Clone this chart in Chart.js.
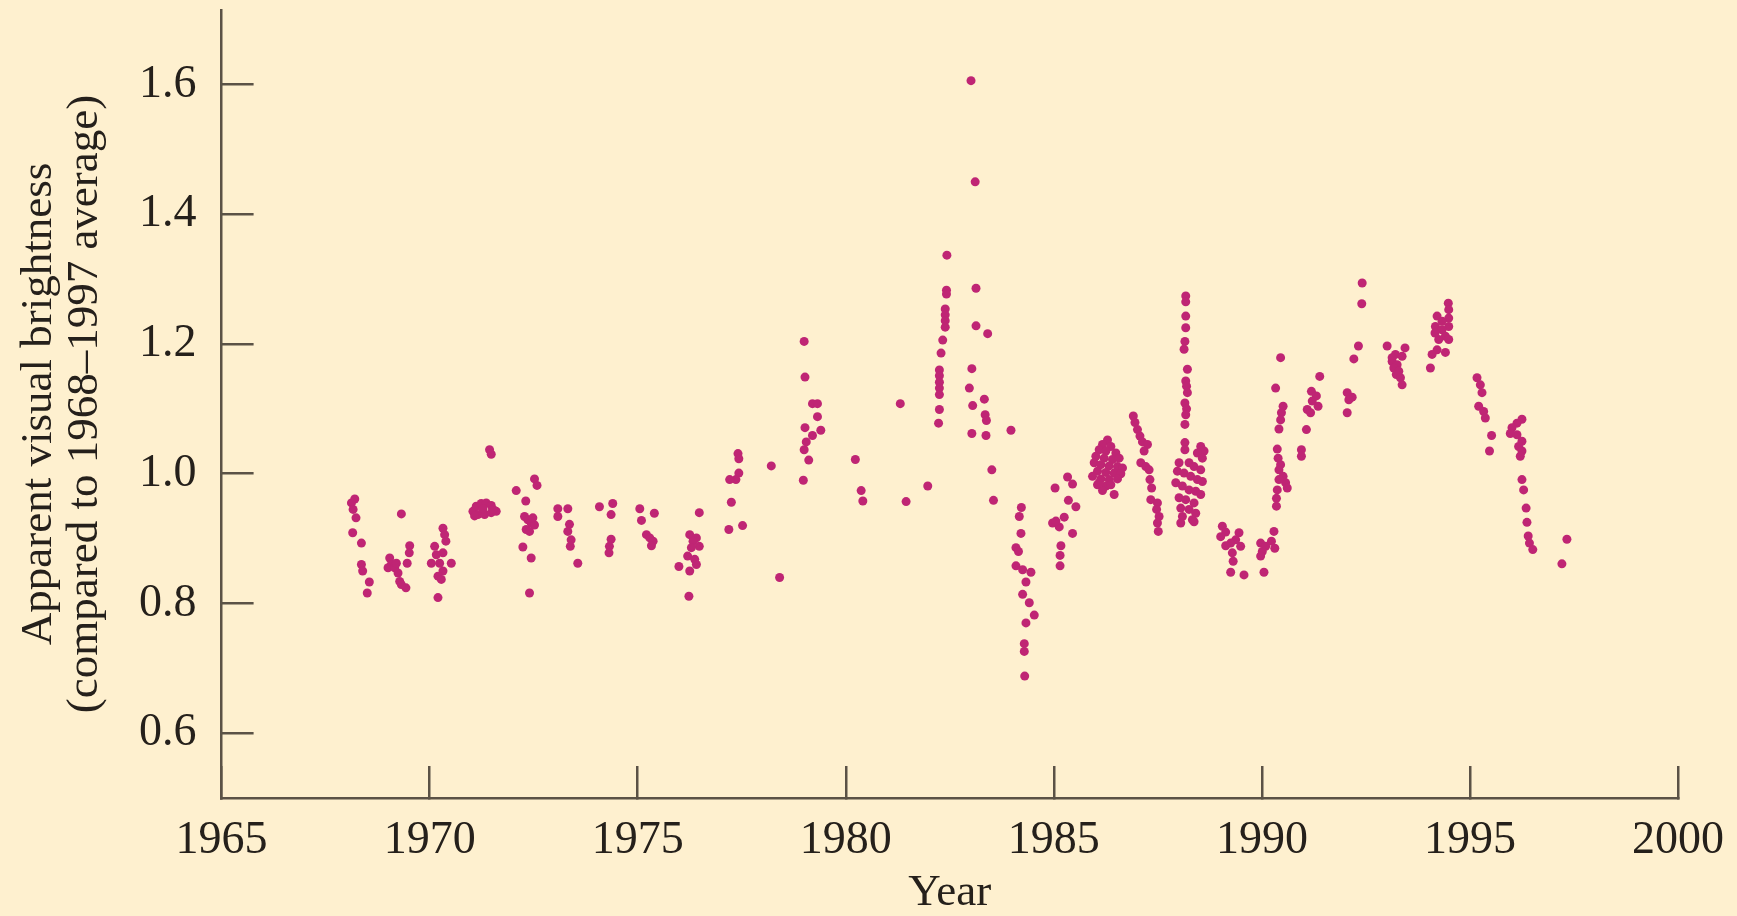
<!DOCTYPE html>
<html>
<head>
<meta charset="utf-8">
<title>Apparent visual brightness 1968–1997</title>
<script src="https://cdn.jsdelivr.net/npm/chart.js@4/dist/chart.umd.min.js"></script>
<style>
  html, body { margin: 0; padding: 0; background: #fef0cf; }
  canvas { display: block; }
</style>
</head>
<body>
<canvas id="chart" width="1737" height="916"></canvas>
<script>
const yearTicks = [1965, 1970, 1975, 1980, 1985, 1990, 1995, 2000];
const brightnessTicks = [0.6, 0.8, 1.0, 1.2, 1.4, 1.6];

// observation epochs, one line per observing season
const years = [
  1968.20,1968.12,1968.16,1968.23,1968.15,1968.36,1968.36,1968.39,1968.55,1968.50,
  1969.32,1969.52,1969.51,1969.46,1969.04,1969.08,1969.00,1969.16,1969.24,1969.28,1969.43,1969.32,1969.20,
  1970.32,1970.36,1970.39,1970.12,1970.32,1970.16,1970.04,1970.24,1970.52,1970.32,1970.20,1970.28,1970.20,
  1971.04,1971.12,1971.24,1971.36,1971.48,1971.60,1971.16,1971.32,1971.48,1971.08,1971.28,1971.52,1971.44,1971.48,
  1972.08,1972.52,1972.58,1972.31,1972.28,1972.36,1972.44,1972.52,1972.32,1972.24,1972.44,1972.40,1972.48,1972.40,
  1973.08,1973.32,1973.08,1973.36,1973.32,1973.40,1973.38,1973.56,
  1974.08,1974.40,1974.36,1974.36,1974.32,1974.31,
  1975.05,1975.40,1975.09,1975.21,1975.29,1975.37,1975.33,
  1976.48,1976.25,1976.41,1976.33,1976.48,1976.29,1976.20,1976.37,1976.41,1975.99,1976.25,1976.23,
  1977.41,1977.43,1977.43,1977.36,1977.21,1977.25,1977.19,1977.52,1978.21,1978.41,
  1979.00,1979.02,1979.20,1979.32,1979.32,1979.02,1979.40,1979.20,1979.05,1979.00,1979.11,1978.98,1980.23,1980.37,1980.41,
  1981.31,1981.97,1981.45,1982.43,1982.42,1982.42,1982.39,1982.39,1982.39,1982.39,1982.33,1982.29,1982.25,1982.25,1982.25,1982.25,1982.25,1982.25,1982.23,
  1983.01,1983.11,1983.13,1983.13,1983.41,1983.03,1982.97,1983.05,1983.33,1983.35,1983.38,1983.03,1983.37,1983.97,1983.51,1983.55,
  1984.22,1984.17,1984.21,1984.09,1984.15,1984.09,1984.25,1984.45,1984.33,1984.25,1984.41,1984.53,1984.33,1984.29,1984.29,1984.30,
  1985.33,1985.45,1985.03,1985.35,1985.53,1984.97,1985.13,1985.45,1985.17,1985.15,1985.15,1985.05,1985.25,
  1986.29,1986.17,1986.37,1986.09,1986.25,1986.49,1986.01,1986.21,1986.41,1986.57,1985.97,1986.13,1986.33,1986.53,1986.65,
  1986.05,1986.25,1986.45,1986.61,1985.93,1986.13,1986.33,1986.53,1986.05,1986.25,1986.17,1986.45,1986.09,1986.37,
  1986.91,1986.95,1987.01,1987.07,1987.13,1987.25,1987.17,1987.09,1987.21,1987.29,1987.31,1987.35,1987.33,1987.49,1987.47,1987.53,1987.49,1987.51,
  1988.17,1988.17,1988.17,1988.17,1988.15,1988.13,1988.21,1988.17,1988.19,1988.21,1988.15,1988.19,1988.17,1988.15,1988.15,1988.15,
  1988.53,1988.61,1988.45,1988.57,1988.01,1988.25,1988.37,1988.53,1987.97,1988.13,1988.29,1988.45,1988.57,1987.93,
  1988.09,1988.25,1988.41,1988.53,1988.01,1988.17,1988.37,1988.05,1988.25,1988.41,1988.09,1988.33,1988.05,1988.37,
  1989.05,1989.13,1989.01,1989.45,1989.37,1989.25,1989.13,1989.49,1989.29,1989.31,1989.25,1989.57,1990.05,1989.97,1990.09,1990.01,1989.97,1990.29,1990.31,1990.23,
  1990.45,1990.33,1990.51,1990.47,1990.45,1990.41,1990.37,1990.39,1990.45,1990.41,1990.51,1990.57,1990.61,1990.37,1990.35,1990.35,1990.41,
  1991.39,1991.19,1991.31,1991.21,1991.35,1991.09,1991.17,1991.07,1990.95,1990.95,
  1992.41,1992.40,1992.32,1992.21,1992.05,1992.17,1992.09,1992.05,
  1993.01,1993.44,1993.21,1993.37,1993.13,1993.25,1993.17,1993.29,1993.23,1993.33,1993.37,1993.13,
  1994.48,1994.49,1994.21,1994.49,1994.33,1994.17,1994.49,1994.33,1994.16,1994.41,1994.25,1994.49,1994.21,1994.41,1994.09,1994.05,
  1995.17,1995.25,1995.29,1995.21,1995.33,1995.37,1995.52,1995.47,
  1996.25,1996.13,1996.01,1995.97,1996.13,1996.25,1996.17,1996.25,1996.21,1996.25,1996.29,1996.35,1996.37,1996.40,1996.43,1996.51,
  1997.33,1997.21
];

// brightness relative to the 1968–1997 mean, same order as years
const brightness = [
  0.961,0.955,0.945,0.932,0.909,0.893,0.860,0.850,0.833,0.816,
  0.938,0.889,0.878,0.862,0.870,0.860,0.855,0.855,0.847,0.834,0.824,0.829,0.862,
  0.916,0.906,0.896,0.888,0.878,0.875,0.862,0.862,0.862,0.850,0.842,0.837,0.809,
  0.942,0.950,0.954,0.955,0.951,0.942,0.937,0.937,0.940,0.935,0.946,0.945,1.037,1.030,
  0.974,0.992,0.982,0.958,0.934,0.929,0.924,0.921,0.914,0.887,0.870,0.816,0.932,0.911,
  0.946,0.946,0.934,0.922,0.911,0.898,0.888,0.862,
  0.949,0.954,0.937,0.899,0.888,0.878,
  0.946,0.939,0.928,0.906,0.901,0.896,0.889,
  0.940,0.906,0.901,0.896,0.888,0.886,0.873,0.868,0.860,0.857,0.850,0.811,
  1.031,1.023,1.001,0.991,0.991,0.956,0.914,0.920,1.012,0.840,
  1.204,1.149,1.108,1.108,1.088,1.071,1.067,1.059,1.049,1.037,1.021,0.990,1.022,0.974,0.958,
  1.108,0.981,0.957,1.337,1.283,1.277,1.254,1.245,1.236,1.226,1.206,1.186,1.160,1.151,1.141,1.132,1.122,1.099,1.078,
  1.606,1.450,1.286,1.228,1.216,1.162,1.132,1.105,1.115,1.091,1.082,1.062,1.059,1.067,1.006,0.959,
  0.948,0.934,0.908,0.886,0.880,0.858,0.852,0.848,0.833,0.814,0.801,0.782,0.770,0.738,0.726,0.688,
  0.995,0.984,0.978,0.959,0.949,0.924,0.918,0.908,0.889,0.874,0.858,0.927,0.933,
  1.052,1.045,1.042,1.037,1.035,1.032,1.027,1.024,1.022,1.024,1.017,1.014,1.012,1.011,1.009,
  1.004,1.002,1.001,1.000,0.996,0.992,0.991,0.992,0.983,0.981,0.974,0.968,0.986,0.983,
  1.089,1.079,1.068,1.058,1.049,1.045,1.035,1.017,1.011,1.006,0.991,0.978,0.960,0.955,0.945,0.934,0.924,0.911,
  1.274,1.265,1.243,1.225,1.204,1.192,1.161,1.143,1.135,1.125,1.109,1.100,1.091,1.076,1.048,1.037,
  1.042,1.035,1.032,1.024,1.017,1.017,1.011,1.006,1.004,1.001,0.996,0.991,0.988,0.986,
  0.981,0.975,0.973,0.968,0.963,0.960,0.955,0.947,0.945,0.939,0.934,0.929,0.924,0.926,
  0.919,0.910,0.903,0.909,0.898,0.893,0.889,0.888,0.878,0.865,0.848,0.844,0.848,0.893,0.888,0.880,0.873,0.911,0.885,0.896,
  1.179,1.132,1.104,1.094,1.083,1.069,1.038,1.024,1.014,1.006,0.996,0.986,0.978,0.975,0.962,0.950,0.991,
  1.150,1.127,1.120,1.112,1.104,1.099,1.094,1.068,1.037,1.027,
  1.294,1.262,1.197,1.177,1.125,1.118,1.114,1.094,
  1.197,1.194,1.184,1.181,1.173,1.168,1.163,1.158,1.153,1.148,1.137,1.179,
  1.263,1.253,1.243,1.240,1.235,1.227,1.227,1.222,1.217,1.212,1.207,1.207,1.191,1.187,1.184,1.163,
  1.148,1.137,1.125,1.104,1.096,1.086,1.059,1.035,
  1.084,1.078,1.071,1.062,1.060,1.050,1.042,1.035,1.027,0.991,0.975,0.947,0.925,0.904,0.893,0.883,
  0.899,0.861
];

const SERIF = "'Liberation Serif', 'DejaVu Serif', serif";
const INK = "#25201b";
const AXIS = "#5b5246";
const DOT = "#bf2574";

const points = years.map((x, i) => ({ x, y: brightness[i] }));

new Chart(document.getElementById("chart"), {
  type: "scatter",
  data: {
    datasets: [{
      data: points,
      pointRadius: 4.5,
      pointBackgroundColor: DOT,
      pointBorderWidth: 0
    }]
  },
  options: {
    responsive: false,
    animation: false,
    events: [],
    layout: { padding: { top: 10, right: 59, left: 0, bottom: 0 } },
    plugins: { legend: { display: false }, tooltip: { enabled: false } },
    scales: {
      x: {
        type: "linear",
        min: 1965, max: 2000,
        afterBuildTicks: s => { s.ticks = yearTicks.map(v => ({ value: v })); },
        afterFit: s => { s.height = 118; s.paddingLeft = 0; s.paddingRight = 0; },
        // negative tick length puts the marks inside the plot
        grid: { drawOnChartArea: false, drawTicks: true, tickLength: -32, color: AXIS, lineWidth: 2.5 },
        border: { display: true, color: AXIS, width: 2.5 },
        ticks: {
          color: INK, padding: 52, maxRotation: 0, autoSkip: false,
          font: { family: SERIF, size: 46, lineHeight: 1 },
          callback: v => String(v)
        },
        title: {
          display: true, text: "Year", color: INK,
          font: { family: SERIF, size: 45, lineHeight: 1 },
          padding: { top: 0, bottom: 0 }
        }
      },
      y: {
        min: 0.5, max: 1.715,
        afterBuildTicks: s => { s.ticks = brightnessTicks.map(v => ({ value: v })); },
        afterFit: s => { s.width = 221.6; s.paddingTop = 0; s.paddingBottom = 0; },
        grid: { drawOnChartArea: false, drawTicks: true, tickLength: -32, color: AXIS, lineWidth: 2.5 },
        border: { display: true, color: AXIS, width: 2.5 },
        ticks: {
          color: INK, padding: 57,
          font: { family: SERIF, size: 46, lineHeight: 1 },
          callback: v => v.toFixed(1)
        },
        title: {
          display: true,
          text: ["Apparent visual brightness", "(compared to 1968–1997 average)"],
          color: INK,
          font: { family: SERIF, size: 45, lineHeight: 46 / 45 },
          padding: { top: 16, bottom: 0 }
        }
      }
    }
  }
});
</script>
</body>
</html>
